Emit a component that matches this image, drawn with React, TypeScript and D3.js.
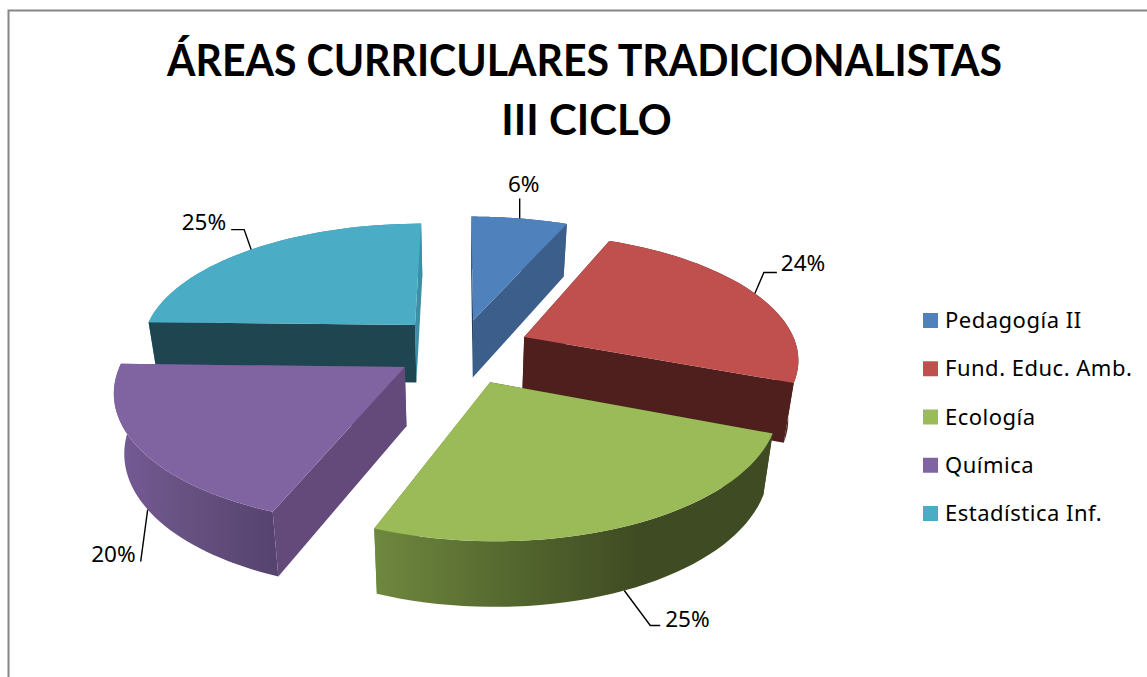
import React from "react";
import * as d3 from "d3";

const titleLines = ["ÁREAS CURRICULARES TRADICIONALISTAS", "III CICLO"];
const categories = ["Pedagogía II", "Fund. Educ. Amb.", "Ecología", "Química", "Estadística Inf."];
const values = [6.45, 24.45, 25, 19.5, 24.6];
const colors = ["#4f81bd", "#c0504d", "#9bbb59", "#8064a2", "#4bacc6"];
const offsetX = [0.045, 0.23, 0.1, -0.197, -0.17];
const offsetY = [0.26, 0.12, -0.23, -0.117, 0.22];
const radius = [1.03, 0.98, 0.975, 1, 0.99];
const startFaces = ["#24405f", "#4f1f1e", "#3f4b22", "#634a7a", "#1f4650"];
const endFaces = ["#3c5e8b", "#4f1f1e", "#6f883f", "#634a7a", "#3d8fa6"];
const wallStops = [
  ["#3c5e8b", "#3c5e8b"],
  ["#4f1f1e", "#4f1f1e"],
  ["#6f883f", "#55682f", "#3f4b22", "#3f4b22"],
  ["#765b97", "#65507f", "#57436f"],
  ["#3d8fa6", "#3d8fa6"],
];
const drawOrder = [0, 4, 1, 3, 2];
// label layout: text offset and leader elbow, relative to the slice's arc anchor
const labelLayout = [
  { elbow: [0, -20], end: [0, -20], text: [4, -26], anchor: "middle", wall: false },
  { elbow: [9, -21], end: [22, -21], text: [26, -22], anchor: "start", wall: false },
  { elbow: [26, 35], end: [36, 35], text: [41, 36], anchor: "start", wall: true },
  { elbow: [-7, 52], end: [-7, 52], text: [-12, 52], anchor: "end", wall: true },
  { elbow: [-7, -20], end: [-20, -20], text: [-25, -20], anchor: "end", wall: false },
];

const W = 1147;
const H = 677;
const cx = 461;
const cy = 352;
const S = 280;
const Sq = 126.7;
const k = 0.1605;
const D = 58.5;
const k2 = 0.09;
const shrink = 0.03;

type P = [number, number];
function top(X: number, Y: number): P {
  const w = 1 + k * Y;
  return [cx + (S * X) / w, cy - (Sq * Y) / w];
}
function bottom(X: number, Y: number): P {
  const [x, y] = top(X, Y);
  return [x - (x - cx) * shrink, y + D / (1 + k2 * Y)];
}

const pie = d3.pie<number>().sort(null).startAngle(0).endAngle(2 * Math.PI);
const arcs = pie(values);
const line = d3.line<P>();

export default function App() {
  const slices = arcs.map((a, i) => {
    const mid = (a.startAngle + a.endAngle) / 2;
    const ox = offsetX[i];
    const oy = offsetY[i];
    const r = radius[i];
    const angles = d3.range(0, 41).map((t) => a.startAngle + ((a.endAngle - a.startAngle) * t) / 40);
    const rim = angles.map((t) => [ox + r * Math.sin(t), oy + r * Math.cos(t)] as P);
    const rimTop = rim.map((p) => top(p[0], p[1]));
    const rimBot = rim.map((p) => bottom(p[0], p[1]));
    const at = top(ox, oy);
    const ab = bottom(ox, oy);
    const n = rim.length - 1;
    const mp: P = [ox + r * Math.sin(mid), oy + r * Math.cos(mid)];
    const layout = labelLayout[i];
    const anchor = layout.wall ? bottom(mp[0], mp[1]) : top(mp[0], mp[1]);
    const xs = rimTop.map((p) => p[0]);
    return {
      i,
      topPath: line([at, ...rimTop])! + "Z",
      startFace: line([at, rimTop[0], rimBot[0], ab])! + "Z",
      endFace: line([at, rimTop[n], rimBot[n], ab])! + "Z",
      wall: line([...rimTop, ...rimBot.slice().reverse()])! + "Z",
      startFront: Math.sin(a.startAngle) < -1e-6,
      endFront: Math.sin(a.endAngle) > 1e-6,
      x0: d3.min(xs)!,
      x1: d3.max(xs)!,
      anchor,
      layout,
    };
  });
  const byIndex = (i: number) => slices[i];

  return (
    <svg
      width={W}
      height={H}
      style={{ position: "absolute", left: 0, top: 0, display: "block", background: "#fff" }}
      fontFamily="'Noto Sans', sans-serif"
    >
      <defs>
        {slices.map((s) => (
          <linearGradient key={s.i} id={`wall${s.i}`} gradientUnits="userSpaceOnUse" x1={s.x0} x2={s.x1} y1={0} y2={0}>
            {wallStops[s.i].map((c, j) => (
              <stop key={j} offset={j / (wallStops[s.i].length - 1)} stopColor={c} />
            ))}
          </linearGradient>
        ))}
      </defs>
      <path d={`M8.5 ${H}V10.5H${W}`} fill="none" stroke="#868686" strokeWidth={2} />
      <text x={584.5} y={76} textAnchor="middle" fontFamily="Lato, sans-serif" fontSize={43} fontWeight={700} fill="#000" textLength={835} lengthAdjust="spacingAndGlyphs">
        {titleLines[0]}
      </text>
      <text x={586.5} y={135} textAnchor="middle" fontFamily="Lato, sans-serif" fontSize={42} fontWeight={700} fill="#000">
        {titleLines[1]}
      </text>
      {drawOrder.map((i) => {
        const s = byIndex(i);
        return (
          <g key={i}>
            {!s.startFront && <path d={s.startFace} fill={startFaces[i]} />}
            {!s.endFront && <path d={s.endFace} fill={endFaces[i]} />}
            <path d={s.wall} fill={`url(#wall${i})`} />
            {s.startFront && <path d={s.startFace} fill={startFaces[i]} />}
            {s.endFront && <path d={s.endFace} fill={endFaces[i]} />}
            <path d={s.topPath} fill={colors[i]} />
          </g>
        );
      })}
      {slices.map((s) => {
        const [ax, ay] = s.anchor;
        const l = s.layout;
        const pts: P[] = [
          [ax, ay],
          [ax + l.elbow[0], ay + l.elbow[1]],
          [ax + l.end[0], ay + l.end[1]],
        ];
        return (
          <g key={s.i}>
            <path d={line(pts)!} fill="none" stroke="#000" strokeWidth={1.4} />
            <text x={ax + l.text[0]} y={ay + l.text[1]} textAnchor={l.anchor as any} fontSize={22.5} fill="#000">
              {`${Math.round(values[s.i])}%`}
            </text>
          </g>
        );
      })}
      {categories.map((c, i) => (
        <g key={c}>
          <rect x={923} y={313 + i * 48.25} width={15} height={15} fill={colors[i]} />
          <text x={945} y={328 + i * 48.25} fontSize={22} letterSpacing={0.5} fill="#000">
            {c}
          </text>
        </g>
      ))}
    </svg>
  );
}
